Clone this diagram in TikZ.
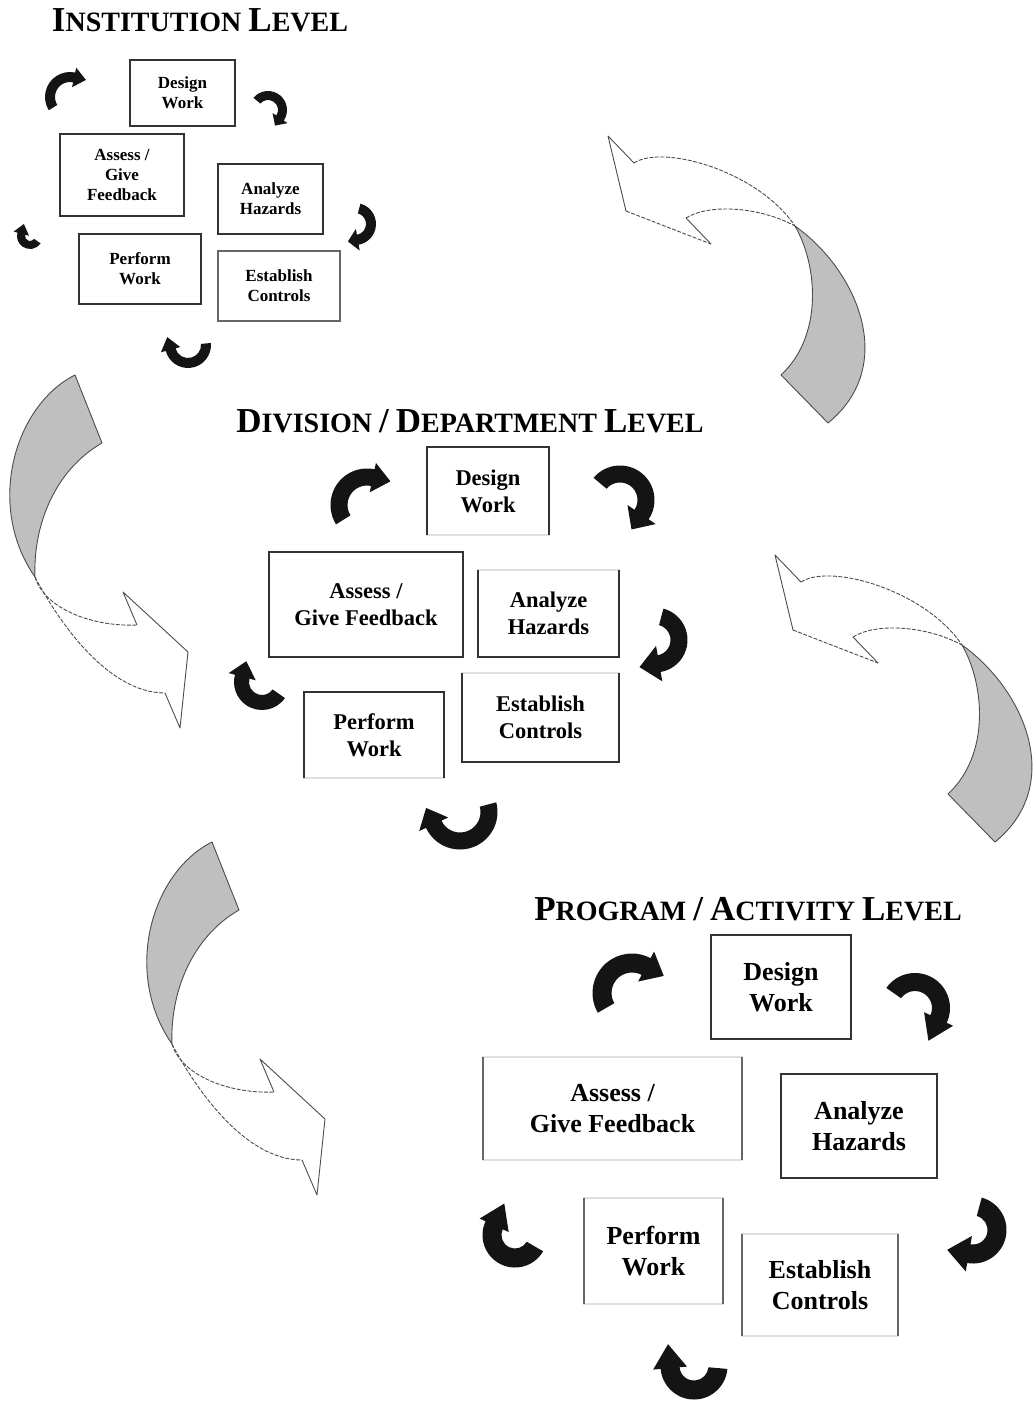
\documentclass[tikz,border=0pt]{standalone}
\usepackage{fontspec}
\setmainfont{Liberation Serif}
\newcommand\BigC[1]{{\fontsize{35}{37}\selectfont #1}}
% curved black arrow: cx cy R width headhalf startangle endangle headlength
\newcommand\blkarrow[8]{%
\fill[black!92, shift={(#1,#2)}] (#6:{#3+#4/2}) arc[start angle=#6, end angle=#7, radius={#3+#4/2}]
 -- (#7:{#3+#5}) -- ({#7+atan(#8/#3)}:{sqrt(#3*#3+#8*#8)}) -- (#7:{#3-#5})
 -- (#7:{#3-#4/2}) arc[start angle=#7, end angle=#6, radius={#3-#4/2}] -- cycle;}
% twisted ribbon arrow, head at upper left
\newcommand\rtwist[2]{%
\begin{scope}[shift={(#1,#2)}]
\filldraw[twfill] (187,90) .. controls (250,135) and (290,230) .. (220,287) -- (173,239) .. controls (215,200) and (210,130) .. (187,90) -- cycle;
\draw[twline,dsh] (26,27) .. controls (55,8) and (150,35) .. (187,90);
\draw[twline,dsh] (78,82) .. controls (100,68) and (150,70) .. (187,90);
\draw[twline] (26,27) -- (0,0) -- (18,75);
\draw[twline,dsh] (18,75) -- (103,108);
\draw[twline] (103,108) -- (78,82);
\end{scope}}
% twisted ribbon arrow, head at lower right
\newcommand\ltwist[2]{%
\begin{scope}[shift={(#1,#2)}]
\filldraw[twfill] (0,0) .. controls (-60,30) and (-90,130) .. (-40,202) .. controls (-42,150) and (-20,95) .. (27,68) -- cycle;
\draw[twline,dsh] (-40,202) .. controls (-20,240) and (30,318) .. (90,318);
\draw[twline,dsh] (-40,202) .. controls (-30,235) and (20,252) .. (62,250);
\draw[twline] (62,250) -- (48,217) -- (113,277) -- (105,353) -- (90,318);
\end{scope}}
\tikzset{
  twfill/.style={fill=gray!50, draw=black!70, line width=0.9pt, line join=round},
  twline/.style={draw=black!70, line width=0.9pt, line join=round},
  dsh/.style={dash pattern=on 4pt off 1.5pt},
  ttl/.style={font=\bfseries\fontsize{28}{30}\selectfont, anchor=base, inner sep=0pt},
  boxfull/.style={draw=black!80, line width=1.3pt, inner sep=0pt, outer sep=0pt, align=center},
  boxfaint/.style={draw=black!12, line width=1.1pt, inner sep=0pt, outer sep=0pt, align=center},
  edg/.style={draw=black!80, line width=1.4pt},
  fi/.style={font=\fontsize{17}{20}\selectfont\bfseries},
  fd/.style={font=\fontsize{22.5}{27}\selectfont\bfseries},
  fp/.style={font=\fontsize{26}{31}\selectfont\bfseries},
}
\begin{document}
\begin{tikzpicture}[x=1pt,y=-1pt]
\useasboundingbox (0,0) rectangle (1035,1404);

% big twisted arrows
\rtwist{608}{136}
\rtwist{775}{555}
\ltwist{75}{375}
\ltwist{212}{842}

% titles
\node[ttl] (t1) at (200,32) {\BigC{I}NSTITUTION \BigC{L}EVEL};
\node[ttl] (t2) at (470,432) {\BigC{D}IVISION \BigC{/} \BigC{D}EPARTMENT \BigC{L}EVEL};
\node[ttl] (t3) at (748,920) {\BigC{P}ROGRAM \BigC{/} \BigC{A}CTIVITY \BigC{L}EVEL};

% institution level
\node[boxfull,fi,minimum width=105,minimum height=66] (iD) at (182.5,93) {Design\\Work};
\node[boxfull,fi,minimum width=124,minimum height=82] (iA) at (122,175) {Assess /\\Give\\Feedback};
\node[boxfull,fi,minimum width=105,minimum height=70] (iH) at (270.5,199) {Analyze\\Hazards};
\node[boxfull,fi,minimum width=122,minimum height=70] (iP) at (140,269) {Perform\\Work};
\node[boxfull,fi,minimum width=122,minimum height=70,draw=black!60] (iE) at (279,286) {Establish\\Controls};

\blkarrow{70}{97}{20}{10}{10}{148}{282}{12}
\blkarrow{268}{110}{14.5}{9}{9}{220}{394}{9}
\blkarrow{355}{224}{16}{10}{11}{285}{440}{10}
\blkarrow{188}{345}{18}{10}{10}{-5}{165}{13}
\blkarrow{30}{236}{9}{8}{8}{35}{195}{10}

% division level
\node[boxfaint,fd,minimum width=122,minimum height=88] (dD) at (488,491) {Design\\Work};
\node[boxfull,fd,minimum width=194,minimum height=105] (dA) at (366,604.5) {Assess /\\Give Feedback};
\node[boxfaint,fd,minimum width=141,minimum height=87] (dH) at (548.5,613.5) {Analyze\\Hazards};
\node[boxfaint,fd,minimum width=157,minimum height=89] (dE) at (540.5,717.5) {Establish\\Controls};
\node[boxfaint,fd,minimum width=140,minimum height=86] (dP) at (374,735) {Perform\\Work};
\draw[edg] (dD.south west) -- (dD.north west) -- (dD.north east) -- (dD.south east);
\draw[edg] (dH.north west) -- (dH.south west) -- (dH.south east) -- (dH.north east);
\draw[edg] (dE.north west) -- (dE.south west) -- (dE.south east) -- (dE.north east);
\draw[edg] (dP.south west) -- (dP.north west) -- (dP.north east) -- (dP.south east);

\blkarrow{367}{505}{28}{17}{15}{148}{282}{18}
\blkarrow{620}{500}{26}{17}{17}{220}{394}{18}
\blkarrow{655}{640}{24}{17}{18}{285}{440}{20}
\blkarrow{460}{812}{29}{17}{16}{-15}{155}{18}
\blkarrow{262}{682}{20.5}{15}{14}{35}{195}{16}

% program level
\node[boxfull,fp,minimum width=140,minimum height=104] (pD) at (781,987) {Design\\Work};
\node[boxfaint,fp,minimum width=259,minimum height=103] (pA) at (612.5,1108.5) {Assess /\\Give Feedback};
\node[boxfull,fp,minimum width=156,minimum height=104] (pH) at (859,1126) {Analyze\\Hazards};
\node[boxfaint,fp,minimum width=139,minimum height=106] (pP) at (653.5,1251) {Perform\\Work};
\node[boxfaint,fp,minimum width=156,minimum height=102] (pE) at (820,1285) {Establish\\Controls};
\draw[edg,black!60] (pA.north west) -- (pA.south west) (pA.north east) -- (pA.south east);
\draw[edg,black!60] (pP.north west) -- (pP.south west) (pP.north east) -- (pP.south east);
\draw[edg,black!60] (pE.north west) -- (pE.south west) (pE.north east) -- (pE.south east);

\blkarrow{632}{993}{30}{19}{17}{150}{298}{20}
\blkarrow{915}{1008}{26}{18}{16}{215}{385}{24}
\blkarrow{973}{1230}{24}{19}{18}{285}{460}{22}
\blkarrow{694}{1366}{24}{19}{17}{5}{175}{24}
\blkarrow{515}{1235}{23}{19}{16}{30}{205}{24}
\end{tikzpicture}
\end{document}
